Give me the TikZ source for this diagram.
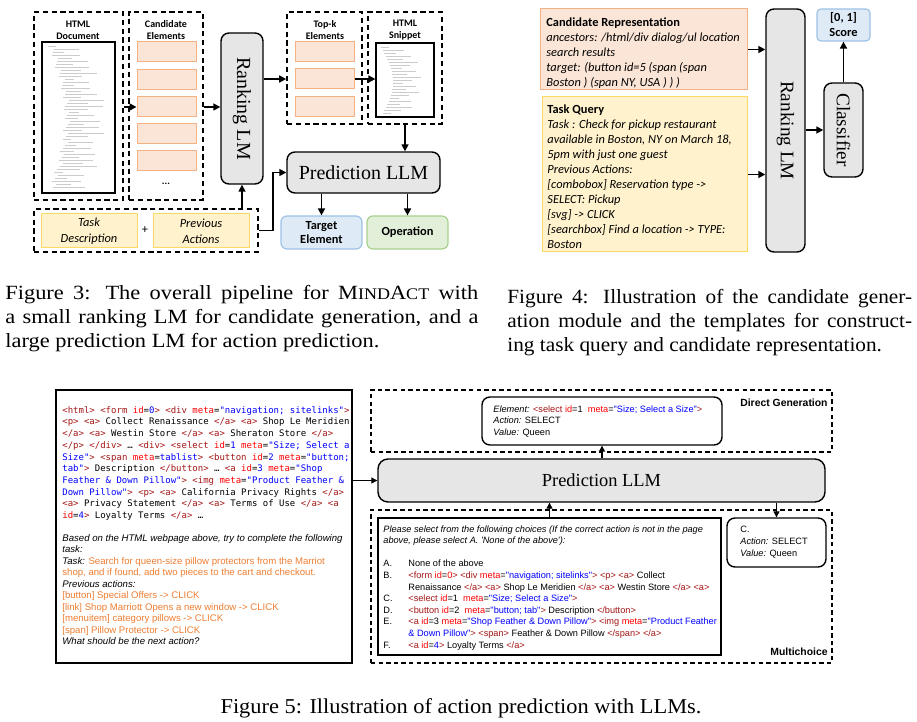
\documentclass[tikz,border=0pt]{standalone}
\usepackage{fontspec}
\setmainfont{Liberation Serif}
\newfontfamily\calfont{Carlito}
\newfontfamily\arifont{Liberation Sans}
\newfontfamily\codefont{DejaVu Sans Mono}
\usetikzlibrary{arrows.meta,positioning,fit}

\definecolor{candfill}{HTML}{FBE5D6}
\definecolor{candline}{HTML}{F4B183}
\definecolor{taskfill}{HTML}{FFF2CC}
\definecolor{taskline}{HTML}{FFD966}
\definecolor{tgtfill}{HTML}{DEEBF7}
\definecolor{tgtline}{HTML}{9DC3E6}
\definecolor{opfill}{HTML}{E2F0D9}
\definecolor{opline}{HTML}{A9D18E}
\definecolor{llmfill}{HTML}{E7E6E6}
\definecolor{tagc}{HTML}{A31515}
\definecolor{attc}{HTML}{FF0000}
\definecolor{valc}{HTML}{0000FF}
\definecolor{taskc}{HTML}{ED7D31}

\newcommand{\tagtx}[1]{\textcolor{tagc}{#1}}
\newcommand{\attx}[1]{\textcolor{attc}{#1}}
\newcommand{\valtx}[1]{\textcolor{valc}{#1}}
\newcommand{\tasktx}[1]{\textcolor{taskc}{#1}}
\newcommand{\choicelbl}[1]{\makebox[12.5pt][l]{#1}}

\begin{document}
\begin{tikzpicture}[x=0.5pt,y=-0.5pt,
every node/.style={inner sep=0pt},
dashbox/.style={draw,line width=0.8pt,dash pattern=on 2.6pt off 1.8pt},
thinbox/.style={draw,line width=0.6pt,dash pattern=on 2.2pt off 1.6pt},
cand/.style={draw=candline,fill=candfill,line width=0.5pt},
task/.style={draw=taskline,fill=taskfill,line width=0.5pt},
llm/.style={draw,fill=llmfill,rounded corners=4pt,line width=0.7pt},
page/.style={draw,fill=white,line width=0.6pt},
lbl/.style={font=\calfont\bfseries\fontsize{5}{6}\selectfont,align=center},
big/.style={font=\fontsize{10}{12}\selectfont},
codeline/.style={line width=0.35pt,draw=black!20},
arr/.style={-{Triangle[length=3.5pt,width=3.5pt]},line width=0.8pt},
arrs/.style={-{Triangle[length=3pt,width=3pt]},line width=0.6pt},
figcap/.style={font=\fontsize{11.2}{13.3}\selectfont,align=justify,yscale=0.9,transform shape}]
\useasboundingbox (0,0) rectangle (917,722);

% Figure 3
\node[dashbox,fit={(34,12)(123,200)}] (docbox) {};
\node[page,fit={(42,42)(115,193)}] (doc) {};
\foreach \i in {0,...,47}{
  \pgfmathsetmacro\ind{3+16*sin(\i*3.75)+mod(\i*5,7)}
  \pgfmathsetmacro\len{8+mod(\i*17,31)}
  \draw[codeline] (45+\ind,46+\i*3) -- ++(\len,0);
}
\node[lbl] (doclbl) at (78,30) {HTML\\Document};
\node[dashbox,fit={(129,12)(203,200)}] (candbox) {};
\node[lbl] (candlbl) at (166,30) {Candidate\\Elements};
\foreach \y [count=\i] in {52,80,107,134,161}
  \node[cand,fit={(137,\y-10)(196,\y+10)}] (cand\i) {};
\node[lbl] (canddots) at (166,184) {...};
\node[llm,fit={(221,33)(263,184)}] (rank) {};
\node[big,rotate=-90] (ranktxt) at (rank.center) {Ranking LM};
\node[dashbox,fit={(287,12)(362,124)}] (topbox) {};
\node[lbl] (toplbl) at (325,30) {Top-k\\Elements};
\foreach \y [count=\i] in {52,79,107}
  \node[cand,fit={(295,\y-10)(354,\y+10)}] (top\i) {};
\node[dashbox,fit={(368,12)(442,124)}] (snipbox) {};
\node[page,fit={(376,43)(434,117)}] (snip) {};
\foreach \i in {0,...,22}{
  \pgfmathsetmacro\ind{2+12*sin(\i*7.8)+mod(\i*5,5)}
  \pgfmathsetmacro\len{8+mod(\i*13,22)}
  \draw[codeline] (379+\ind,47+\i*3) -- ++(\len,0);
}
\node[lbl] (sniplbl) at (405,30) {HTML\\Snippet};
\node[llm,fit={(287,152)(440,193)}] (pred) {};
\node[big] (predtxt) at (pred.center) {Prediction LLM};
\node[draw=tgtline,fill=tgtfill,rounded corners=3pt,line width=0.6pt,fit={(281,216)(362,249)}] (tgt) {};
\node[lbl,font=\calfont\bfseries\fontsize{6.2}{7}\selectfont] (tgttxt) at (tgt.center) {Target\\Element};
\node[draw=opline,fill=opfill,rounded corners=3pt,line width=0.6pt,fit={(367,216)(448,249)}] (op) {};
\node[lbl,font=\calfont\bfseries\fontsize{6.2}{7}\selectfont] (optxt) at (op.center) {Operation};
\node[dashbox,fit={(34,209)(258,252)}] (taskbox) {};
\node[task,fit={(41,214)(137,248)}] (tdesc) {};
\node[align=center,font=\calfont\itshape\fontsize{6.2}{8}\selectfont] (tdesctxt) at (tdesc.center) {Task\\Description};
\node[font=\calfont\fontsize{6.2}{8}\selectfont] (plus) at (145,230) {+};
\node[task,fit={(153,214)(249,248)}] (pact) {};
\node[align=center,font=\calfont\itshape\fontsize{6.2}{8}\selectfont] (pacttxt) at (pact.center) {Previous\\Actions};
\draw[arr] (docbox.east |- cand3) -- (cand3.west);
\draw[arr] (candbox.east |- cand3) -- (rank.west |- cand3);
\draw[arr] (rank.east |- top2) -- (topbox.west |- top2);
\draw[arr] (top2.east) -- (snip.west |- top2);
\draw[arr] (snipbox.south) -- (snipbox.south |- pred.north);
\draw[arr] (pred.south -| tgt.north) -- (tgt.north);
\draw[arr] (pred.south -| op.north) -- (op.north);
\draw[arr] (taskbox.north -| rank.south) -- (rank.south);
\draw[arr] (taskbox.east) -- ++(14,0) |- (pred.west);

% Figure 4
\node[cand,fit={(540,9)(747,90)}] (crep) {};
\node[anchor=north west,align=left,font=\calfont\itshape\fontsize{6.2}{7.5}\selectfont] (creptxt) at (546,17)
  {{\upshape\bfseries Candidate Representation}\\
   ancestors: /html/div dialog/ul location\\
   search results\\
   target: (button id=5 (span (span\\
   Boston ) (span NY, USA ) ) )};
\node[task,fit={(542,97)(747,252)}] (tq) {};
\node[anchor=north west,align=left,font=\calfont\itshape\fontsize{6.2}{7.5}\selectfont] (tqtxt) at (547,104)
  {{\upshape\bfseries Task Query}\\
   Task : Check for pickup restaurant\\
   available in Boston, NY on March 18,\\
   5pm with just one guest\\
   Previous Actions:\\
   {}[combobox] Reservation type ->\\
   SELECT: Pickup\\
   {}[svg] -> CLICK\\
   {}[searchbox] Find a location -> TYPE:\\
   Boston};
\node[llm,fit={(766,9)(805,252)}] (rank2) {};
\node[big,font=\fontsize{9.6}{12}\selectfont,rotate=-90] (rank2txt) at (rank2.center) {Ranking LM};
\node[llm,fit={(824,83)(863,177)}] (cls) {};
\node[big,font=\fontsize{9.6}{12}\selectfont,rotate=-90] (clstxt) at (cls.center) {Classifier};
\node[draw=tgtline,fill=tgtfill,rounded corners=2pt,line width=0.6pt,fit={(817,9)(870,41)}] (score) {};
\node[lbl,font=\calfont\bfseries\fontsize{6.2}{7.5}\selectfont] (scoretxt) at (score.center) {[0, 1]\\Score};
\draw[arr] (crep.east) -- (crep.east -| rank2.west);
\draw[arr] (tq.east) -- (tq.east -| rank2.west);
\draw[arr] (cls.west -| rank2.east) -- (cls.west);
\draw[arr] (cls.north) -- (score.south);

% captions
\node[figcap,anchor=north west,text width=236.5pt] (cap3) at (5,285)
  {Figure 3: The overall pipeline for M{\fontsize{9}{12}\selectfont IND}A{\fontsize{9}{12}\selectfont CT} with\linebreak a small ranking LM for candidate generation, and a\linebreak large prediction LM for action prediction.};
\node[figcap,xscale=0.95,anchor=north west,text width=213pt] (cap4) at (507,289)
  {Figure 4: Illustration of the candidate gener-\linebreak ation module and the templates for construct-\linebreak ing task query and candidate representation.};

% Figure 5
\node[draw,line width=0.8pt,fit={(56,390)(352,663)}] (htmlbox) {};
\node[anchor=north west,align=left,font=\codefont\fontsize{4.5}{5.85}\selectfont] (code) at (62,406)
  {\tagtx{<html>} \tagtx{<form} \attx{id}=\valtx{0}\tagtx{>} \tagtx{<div} \attx{meta}=\valtx{"navigation; sitelinks"}\tagtx{>}\\
   \tagtx{<p>} \tagtx{<a>} Collect Renaissance \tagtx{</a>} \tagtx{<a>} Shop Le Meridien\\
   \tagtx{</a>} \tagtx{<a>} Westin Store \tagtx{</a>} \tagtx{<a>} Sheraton Store \tagtx{</a>}\\
   \tagtx{</p>} \tagtx{</div>} … \tagtx{<div>} \tagtx{<select} \attx{id}=\valtx{1} \attx{meta}=\valtx{"Size; Select a}\\
   \valtx{Size"}\tagtx{>} \tagtx{<span} \attx{meta}=\valtx{tablist}\tagtx{>} \tagtx{<button} \attx{id}=\valtx{2} \attx{meta}=\valtx{"button;}\\
   \valtx{tab"}\tagtx{>} Description \tagtx{</button>} … \tagtx{<a} \attx{id}=\valtx{3} \attx{meta}=\valtx{"Shop}\\
   \valtx{Feather \& Down Pillow"}\tagtx{>} \tagtx{<img} \attx{meta}=\valtx{"Product Feather \&}\\
   \valtx{Down Pillow"}\tagtx{>} \tagtx{<p>} \tagtx{<a>} California Privacy Rights \tagtx{</a>}\\
   \tagtx{<a>} Privacy Statement \tagtx{</a>} \tagtx{<a>} Terms of Use \tagtx{</a>} \tagtx{<a}\\
   \attx{id}=\valtx{4}\tagtx{>} Loyalty Terms \tagtx{</a>} …};
\node[anchor=north west,align=left,font=\arifont\fontsize{4.8}{5.75}\selectfont] (prompt) at (62,534)
  {\textit{Based on the HTML webpage above, try to complete the following}\\
   \textit{task:}\\
   \textit{Task:} \tasktx{Search for queen-size pillow protectors from the Marriot}\\
   \tasktx{shop, and if found, add two pieces to the cart and checkout.}\\
   \textit{Previous actions:}\\
   \tasktx{[button] Special Offers -> CLICK}\\
   \tasktx{[link] Shop Marriott Opens a new window -> CLICK}\\
   \tasktx{[menuitem] category pillows -> CLICK}\\
   \tasktx{[span] Pillow Protector -> CLICK}\\
   \textit{What should be the next action?}};
\node[llm,rounded corners=5pt,fit={(378,459)(825,502)}] (pred5) {};
\node[font=\fontsize{9.2}{12}\selectfont] (pred5txt) at (pred5.center) {Prediction LLM};
\node[thinbox,fit={(371,390)(832,452)}] (dgbox) {};
\node[anchor=base east,font=\arifont\bfseries\fontsize{5.2}{6}\selectfont] (dglbl) at (828,406) {Direct Generation};
\node[draw,line width=0.7pt,rounded corners=4pt,fit={(482,397)(722,445)}] (elem) {};
\node[anchor=north west,align=left,font=\arifont\fontsize{4.6}{5.9}\selectfont] (elemtxt) at (493,405)
  {\textit{Element:} \tagtx{<select} \attx{id}=1 \ \attx{meta}=\valtx{"Size; Select a Size"}\tagtx{>}\\
   \textit{Action:} SELECT\\
   \textit{Value:} Queen};
\node[thinbox,fit={(371,510)(832,663)}] (mcbox) {};
\node[anchor=base east,font=\arifont\bfseries\fontsize{5.2}{6}\selectfont] (mclbl) at (828,655) {Multichoice};
\node[draw,line width=0.7pt,fit={(378,518)(721,655)}] (choices) {};
\node[anchor=north west,align=left,font=\arifont\fontsize{4.6}{5.8}\selectfont] (choicetxt) at (383,525)
  {\textit{Please select from the following choices (If the correct action is not in the page}\\
   \textit{above, please select A. 'None of the above'):}\\[5.8pt]
   \choicelbl{A.}None of the above\\
   \choicelbl{B.}\tagtx{<form} \attx{id}=\attx{0}\tagtx{>} \tagtx{<div} \attx{meta}=\valtx{"navigation; sitelinks"}\tagtx{>} \tagtx{<p>} \tagtx{<a>} Collect\\
   \choicelbl{}Renaissance \tagtx{</a>} \tagtx{<a>} Shop Le Meridien \tagtx{</a>} \tagtx{<a>} Westin Store \tagtx{</a>} \tagtx{<a>}\\
   \choicelbl{C.}\tagtx{<select} \attx{id}=1 \ \attx{meta}=\valtx{"Size; Select a Size"}\tagtx{>}\\
   \choicelbl{D.}\tagtx{<button} \attx{id}=2 \ \attx{meta}=\valtx{"button; tab"}\tagtx{>} Description \tagtx{</button>}\\
   \choicelbl{E.}\tagtx{<a} \attx{id}=3 \attx{meta}=\valtx{"Shop Feather \& Down Pillow"}\tagtx{>} \tagtx{<img} \attx{meta}=\valtx{"Product Feather}\\
   \choicelbl{}\valtx{\& Down Pillow"}\tagtx{>} \tagtx{<span>} Feather \& Down Pillow \tagtx{</span>} \tagtx{</a>}\\
   \choicelbl{F.}\tagtx{<a} \attx{id}=\valtx{4}\tagtx{>} Loyalty Terms \tagtx{</a>}};
\node[draw,line width=0.7pt,rounded corners=4pt,fit={(727,518)(826,567)}] (ans) {};
\node[anchor=north west,align=left,font=\arifont\fontsize{4.6}{5.9}\selectfont] (anstxt) at (740,526)
  {C.\\
   \textit{Action:} SELECT\\
   \textit{Value:} Queen};
\draw[arrs] (htmlbox.east |- pred5.west) -- (pred5.west);
\draw[arrs] (pred5.north -| elem.south) -- (elem.south);
\draw[arrs] (choices.north) -- (choices.north |- pred5.south);
\draw[arrs] (pred5.south -| ans.north) -- (ans.north);
\node[figcap,yscale=1.05,anchor=base] (cap5) at (461,713) {Figure 5: Illustration of action prediction with LLMs.};
\end{tikzpicture}
\end{document}
